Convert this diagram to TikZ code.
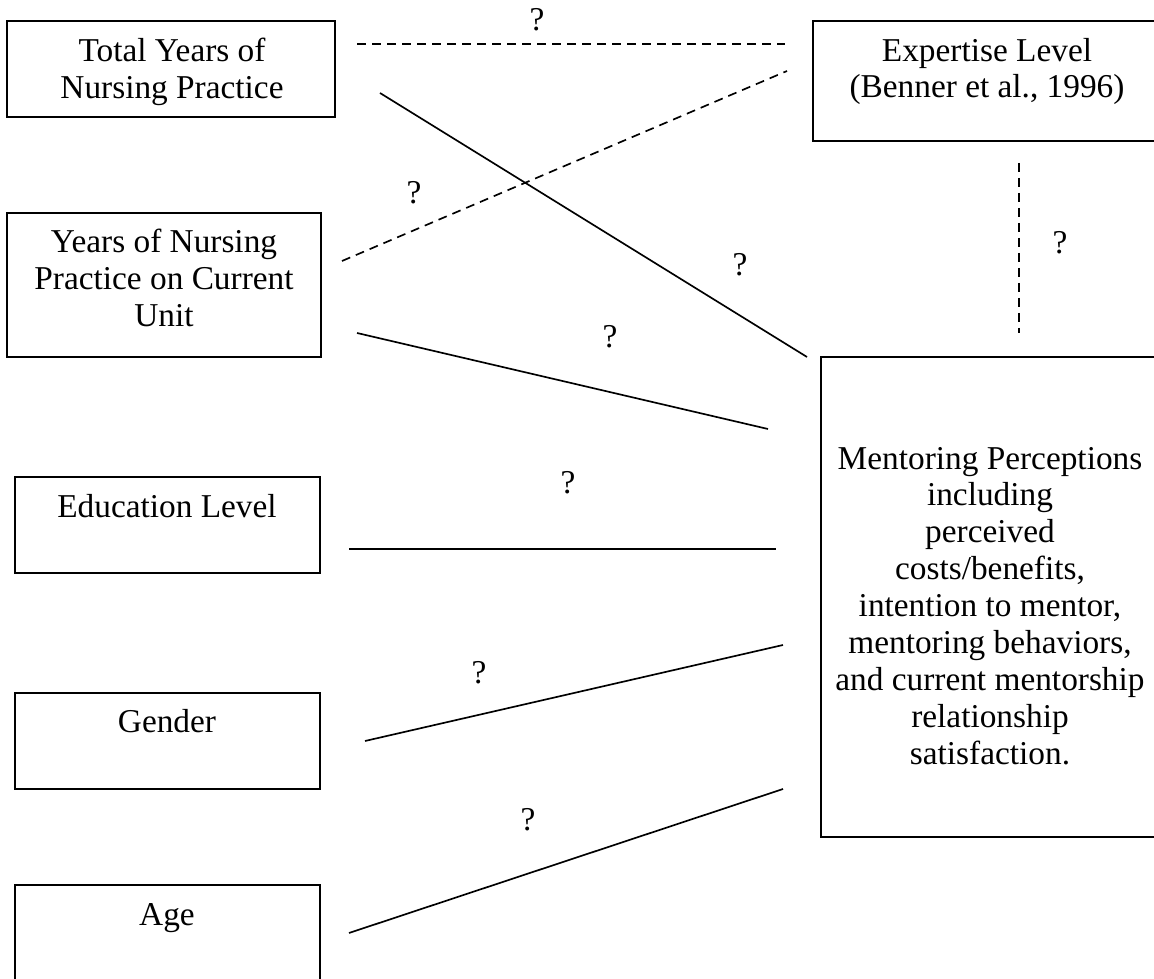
\documentclass[tikz,border=0pt]{standalone}
\usepackage{fontspec}
\setmainfont{Liberation Serif}
\begin{document}
\begin{tikzpicture}[x=0.36pt,y=-0.36pt]
\tikzset{
  box/.style={draw, line width=0.8pt, inner sep=0pt, outer sep=0pt},
  txt/.style={inner sep=0pt, align=center, font=\fontsize{12pt}{13.3pt}\selectfont},
  qmark/.style={inner sep=0pt, font=\fontsize{12pt}{13.3pt}\selectfont},
  link/.style={line width=0.6pt},
  dlink/.style={line width=0.6pt, dash pattern=on 3.2pt off 2.2pt},
}
\useasboundingbox (0,0) rectangle (1154,979);
\clip (0,0) rectangle (1154,979);

% boxes
\node[box, minimum width=118.08pt, minimum height=34.56pt] (tot) at (171,69) {};
\node[box, minimum width=123.84pt, minimum height=43.2pt] (exp) at (985,81) {};
\node[box, minimum width=113.04pt, minimum height=51.84pt] (unit) at (164,285) {};
\node[box, minimum width=109.8pt, minimum height=34.56pt] (edu) at (167.5,525) {};
\node[box, minimum width=109.8pt, minimum height=34.56pt] (gen) at (167.5,741) {};
\node[box, minimum width=109.8pt, minimum height=41.4pt] (age) at (167.5,942.5) {};
\node[box, minimum width=120.96pt, minimum height=172.8pt] (men) at (989,597) {};

% texts
\node[txt] (totT) at (172,71.5) {Total Years of\\Nursing Practice};
\node[txt] (expT) at (987,71.5) {Expertise Level\\(Benner et al., 1996)};
\node[txt] (unitT) at (164,278) {Years of Nursing\\Practice on Current\\Unit};
\node[txt] (eduT) at (167,506.5) {Education Level};
\node[txt] (genT) at (167,721.5) {Gender};
\node[txt] (ageT) at (167,918.5) {Age};
\node[txt] (menT) at (990,606) {Mentoring Perceptions\\including\\perceived\\costs/benefits,\\intention to mentor,\\mentoring behaviors,\\and current mentorship\\relationship\\satisfaction.};

% connector end points
\coordinate (c1a) at (357,44);   \coordinate (c1b) at (785,44);
\coordinate (c2a) at (342,261);  \coordinate (c2b) at (787,71);
\coordinate (c3a) at (380,93);   \coordinate (c3b) at (807,357);
\coordinate (c4a) at (1019,163); \coordinate (c4b) at (1019,333);
\coordinate (c5a) at (357,333);  \coordinate (c5b) at (768,429);
\coordinate (c6a) at (349,549);  \coordinate (c6b) at (776,549);
\coordinate (c7a) at (365,741);  \coordinate (c7b) at (783,645);
\coordinate (c8a) at (349,933);  \coordinate (c8b) at (783,789);

% connectors
\draw[dlink] (c1a) -- (c1b);
\draw[dlink] (c2a) -- (c2b);
\draw[link]  (c3a) -- (c3b);
\draw[dlink] (c4a) -- (c4b);
\draw[link]  (c5a) -- (c5b);
\draw[link]  (c6a) -- (c6b);
\draw[link]  (c7a) -- (c7b);
\draw[link]  (c8a) -- (c8b);

% question marks
\node[qmark] (q1) at (537,20) {?};
\node[qmark] (q2) at (414,193) {?};
\node[qmark] (q3) at (740,265) {?};
\node[qmark] (q4) at (1060,243) {?};
\node[qmark] (q5) at (610,337) {?};
\node[qmark] (q6) at (568,483) {?};
\node[qmark] (q7) at (479,673) {?};
\node[qmark] (q8) at (528,820) {?};
\end{tikzpicture}
\end{document}
